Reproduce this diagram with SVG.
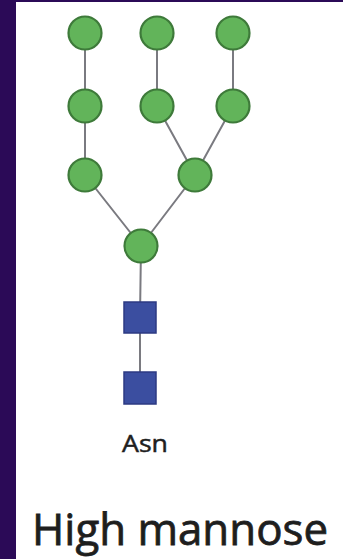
<svg xmlns="http://www.w3.org/2000/svg" width="343" height="559" viewBox="0 0 343 559">
<style>
.m{fill:#62b45a;stroke:#3e7a3a;stroke-width:2.2}
.g{fill:#3b4ea0;stroke:#2c3a82;stroke-width:1.5}
.c{stroke:#7a7a80;stroke-width:2;fill:none}
.t{font-family:"Open Sans","Liberation Sans",sans-serif;fill:#1e1e1e;stroke:#1e1e1e}
</style>
<rect x="0" y="0" width="343" height="559" fill="#ffffff"/>
<rect x="0" y="0" width="343" height="2" fill="#2b0a57"/>
<rect x="0" y="0" width="16" height="559" fill="#2b0a57"/>
<g id="connectors">
<path class="c" d="M85 33V175L141 246"/>
<path class="c" d="M157 33V106L195 175L141 246"/>
<path class="c" d="M233 33V106L195 175"/>
<path class="c" d="M141 246L140 317V388"/>
</g>
<g id="man1"><circle class="m" cx="85" cy="33" r="16.5"/></g>
<g id="man2"><circle class="m" cx="157" cy="33" r="16.5"/></g>
<g id="man3"><circle class="m" cx="233" cy="33" r="16.5"/></g>
<g id="man4"><circle class="m" cx="85" cy="106" r="16.5"/></g>
<g id="man5"><circle class="m" cx="157" cy="106" r="16.5"/></g>
<g id="man6"><circle class="m" cx="233" cy="106" r="16.5"/></g>
<g id="man7"><circle class="m" cx="85" cy="175" r="16.5"/></g>
<g id="man8"><circle class="m" cx="195" cy="175" r="16.5"/></g>
<g id="man9"><circle class="m" cx="141" cy="246" r="16.5"/></g>
<g id="glcnac1"><rect class="g" x="124" y="302" width="32" height="31"/></g>
<g id="glcnac2"><rect class="g" x="124" y="372" width="32" height="32"/></g>
<g id="asn"><text class="t" x="122" y="452" font-size="24" stroke-width="0.5" textLength="46" lengthAdjust="spacingAndGlyphs">Asn</text></g>
<g id="title"><text class="t" x="32" y="545" font-size="44" stroke-width="0.8" textLength="296" lengthAdjust="spacingAndGlyphs">High mannose</text></g>
</svg>
